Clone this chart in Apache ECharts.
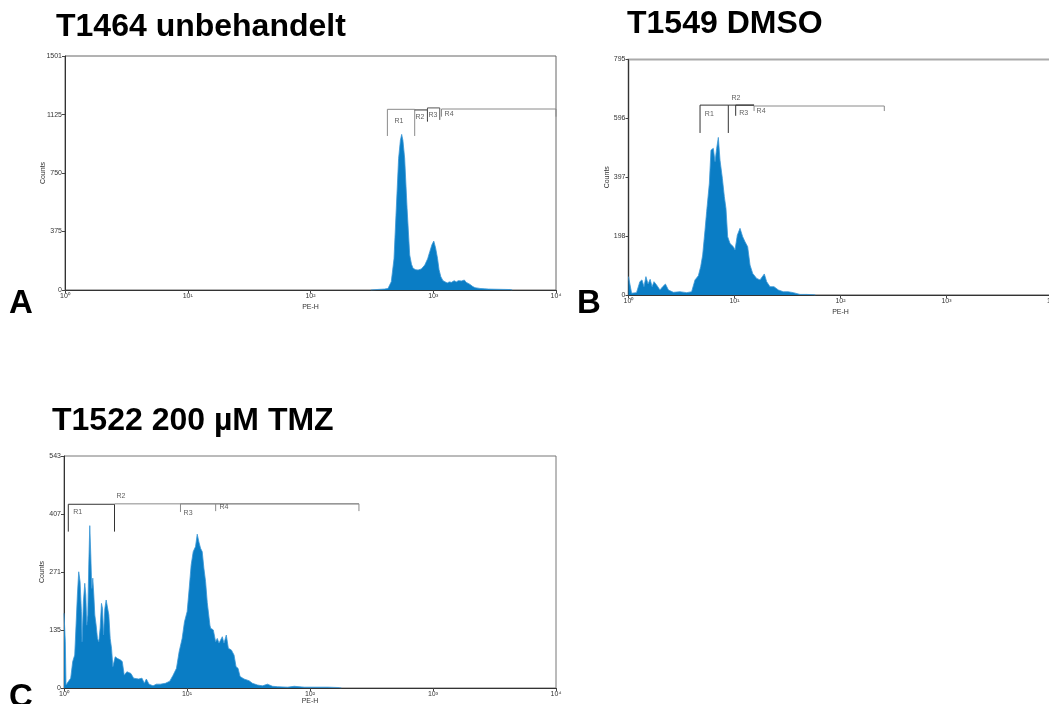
<!DOCTYPE html>
<html>
<head>
<meta charset="utf-8">
<script src="https://cdn.jsdelivr.net/npm/echarts@6/dist/echarts.min.js"></script>
<style>
html,body{margin:0;padding:0;background:#fff;}
#chart{width:1049px;height:704px;}
</style>
</head>
<body>
<div id="chart"></div>
<script>
// ---------- DATA ----------
const panelTitles = ['T1464 unbehandelt', 'T1549 DMSO', 'T1522 200 µM TMZ'];
const panelLetters = ['A', 'B', 'C'];
const xName = 'PE-H';
const yName = 'Counts';
const xTicks = [1, 10, 100, 1000, 10000];
const yTicksA = [0, 375, 750, 1125, 1501];
const yTicksB = [0, 198, 397, 596, 795];
const yTicksC = [0, 135, 271, 407, 543];

// histogram [PE-H, counts]
const histA = [[310,0],[312,3],[360,4],[400,6],[428,10],[455,53],[479,200],[500,524],[522,844],[540,960],[553,998],[566,960],[585,844],[612,524],[643,224],[665,165],[685,139],[720,130],[753,128],[800,135],[853,160],[900,200],[937,246],[975,290],[1010,314],[1045,270],[1083,203],[1115,130],[1153,85],[1200,60],[1243,53],[1300,45],[1350,52],[1410,49],[1480,60],[1540,52],[1600,60],[1700,58],[1792,64],[1850,50],[1992,36],[2100,22],[2188,15],[2400,10],[2600,8],[2813,6],[3200,5],[3700,4],[4204,3],[4400,0]];

const histB = [[1.0,62],[1.07,6],[1.19,8],[1.28,45],[1.34,51],[1.40,28],[1.46,62],[1.53,37],[1.60,53],[1.67,28],[1.74,45],[1.84,34],[1.98,17],[2.10,28],[2.23,37],[2.38,17],[2.65,9],[3.06,11],[3.54,8],[3.94,11],[4.24,51],[4.56,65],[4.80,96],[5.01,135],[5.27,219],[5.46,281],[5.79,377],[6.00,489],[6.31,495],[6.55,450],[6.79,495],[7.04,532],[7.30,455],[7.68,394],[8.02,332],[8.31,292],[8.62,197],[9.07,174],[9.75,163],[10.11,152],[10.63,202],[11.27,225],[11.94,197],[12.56,180],[13.31,163],[14.01,101],[14.84,73],[16.19,56],[17.40,51],[19.11,71],[20.11,45],[21.62,28],[23.59,28],[25.92,17],[28.88,11],[32.20,11],[35.89,8],[41.49,2],[47.96,2],[55.41,1],[58,0]];

const histC = [[1.0,175],[1.025,108],[1.038,7],[1.085,15],[1.134,23],[1.177,62],[1.222,77],[1.253,147],[1.285,218],[1.317,272],[1.351,249],[1.385,179],[1.403,108],[1.438,202],[1.475,245],[1.503,218],[1.531,147],[1.561,171],[1.590,288],[1.620,380],[1.651,311],[1.682,233],[1.714,257],[1.747,218],[1.780,171],[1.825,147],[1.871,116],[1.919,108],[1.967,140],[2.017,198],[2.056,186],[2.095,124],[2.148,186],[2.202,206],[2.258,206],[2.315,171],[2.374,116],[2.434,93],[2.496,50],[2.608,73],[2.725,69],[2.865,66],[2.975,62],[3.089,30],[3.247,38],[3.350,42],[3.501,34],[3.681,23],[4.045,21],[4.306,23],[4.499,11],[4.671,21],[4.911,9],[5.294,5],[5.636,9],[6.076,9],[6.676,11],[7.244,16],[7.712,30],[8.209,46],[8.631,85],[9.131,116],[9.541,155],[10.03,179],[10.42,233],[10.81,288],[11.23,319],[11.73,331],[12.11,360],[12.49,342],[12.89,327],[13.30,319],[13.72,280],[14.16,249],[14.61,200],[15.36,147],[15.56,140],[16.36,136],[17.09,108],[17.63,116],[18.20,105],[18.77,108],[19.37,120],[19.98,105],[20.87,124],[21.68,93],[22.94,89],[24.12,77],[25.04,50],[26.00,46],[27.00,27],[29.11,21],[31.97,17],[34.04,11],[37.40,7],[41.08,5],[45.12,9],[49.57,4],[54.47,3],[65.73,2],[74.5,4],[89.9,2],[108.5,2],[139.4,2],[173.6,1],[180,0]];

// region markers: [label, xStart, xEnd, level, leftTickEnd, rightTickEnd, labelX, labelY]
const gatesA = [
  ['R1', 423, 706, 1159, 988, 988, 526, 1084],
  ['R2', 706, 897, 1155, 1155, 1080, 780, 1112],
  ['R3', 897, 1130, 1168, 1091, 1091, 996, 1123],
  ['R4', 1167, 10000, 1161, 1112, 1112, 1346, 1129]
];
const gatesB = [
  ['R1', 4.73, 8.74, 641, 547, 547, 5.79, 610],
  ['R2', 8.74, 15.3, 641, 641, 641, 10.3, 665],
  ['R3', 10.26, 15.3, 641, 605, 641, 12.2, 615],
  ['R4', 15.3, 259, 638, 621, 621, 17.8, 620]
];
const gatesC = [
  ['R1', 1.084, 2.574, 430, 366, 366, 1.29, 411],
  ['R2', 2.574, 250, 431, 431, 431, 2.90, 449],
  ['R3', 8.85, 17.1, 431, 412, 431, 10.2, 410],
  ['R4', 17.1, 250, 431, 414, 414, 20.0, 424]
];

// ---------- STYLE / LAYOUT ----------
const FONT = 'Liberation Sans';
const FILL = '#0a7dc5';
const grids = [
  {left: 65, top: 56, width: 491, height: 234},
  {left: 628.5, top: 59.5, width: 424, height: 235.5},
  {left: 64, top: 456, width: 492, height: 232}
];
const xNameGaps = [14, 14, 10];
const yMax = [1501, 795, 543];
const yTicks = [yTicksA, yTicksB, yTicksC];
const hists = [histA, histB, histC];
const gates = [gatesA, gatesB, gatesC];
const gateColors = [
  ['#8a8a8a', '#333', '#555', '#8a8a8a'],
  ['#333', '#333', '#333', '#8a8a8a'],
  ['#333', '#8a8a8a', '#8a8a8a', '#8a8a8a']
];
const borderColors = ['#666', '#aaa', '#777'];

const sup = {0:'⁰',1:'¹',2:'²',3:'³',4:'⁴'};
const titleStyle = {fontFamily: FONT, fontSize: 32, fontWeight: 'bold', color: '#000'};
const letterStyle = {fontFamily: FONT, fontSize: 33, fontWeight: 'bold', color: '#000'};

const option = {
  animation: false,
  backgroundColor: '#fff',
  title: [
    {text: panelTitles[0], left: 56, top: 11, padding: 0, textStyle: titleStyle},
    {text: panelTitles[1], left: 627, top: 8, padding: 0, textStyle: titleStyle},
    {text: panelTitles[2], left: 52, top: 405, padding: 0, textStyle: titleStyle},
    {text: panelLetters[0], left: 9, top: 287, padding: 0, textStyle: letterStyle},
    {text: panelLetters[1], left: 577, top: 287, padding: 0, textStyle: letterStyle},
    {text: panelLetters[2], left: 9, top: 681, padding: 0, textStyle: letterStyle}
  ],
  grid: grids.map((g, i) => Object.assign({show: true, outerBoundsMode: 'none', containLabel: false, borderColor: borderColors[i], borderWidth: i === 1 ? 2 : 1, backgroundColor: 'transparent'}, g)),
  xAxis: grids.map((g, i) => ({
    type: 'log', logBase: 10, min: 1, max: 10000, gridIndex: i,
    name: xName, nameLocation: 'middle', nameGap: xNameGaps[i], nameMoveOverlap: false,
    nameTextStyle: {fontFamily: FONT, fontSize: 7, color: '#333'},
    axisLine: {show: true, lineStyle: {color: '#333', width: 1}},
    axisTick: {show: true, length: 3, lineStyle: {color: '#444'}},
    minorTick: {show: false},
    splitLine: {show: false},
    axisLabel: {
      margin: 3, fontFamily: FONT, fontSize: 7, color: '#333', hideOverlap: false,
      formatter: v => '10' + sup[Math.round(Math.log10(v))]
    }
  })),
  yAxis: grids.map((g, i) => ({
    type: 'value', min: 0, max: yMax[i], gridIndex: i,
    name: yName, nameLocation: 'middle', nameRotate: 90, nameGap: 18, nameMoveOverlap: false,
    nameTextStyle: {fontFamily: FONT, fontSize: 7, color: '#333'},
    axisLine: {show: true, lineStyle: {color: '#333', width: 1}},
    axisTick: {show: true, length: 3, customValues: yTicks[i], lineStyle: {color: '#444'}},
    axisLabel: {margin: 3, fontFamily: FONT, fontSize: 7, color: '#333', customValues: yTicks[i], formatter: v => String(v)},
    splitLine: {show: false}
  })),
  series: []
};

hists.forEach((h, i) => {
  option.series.push({
    type: 'line', xAxisIndex: i, yAxisIndex: i, data: h,
    symbol: 'none', smooth: false, z: 2,
    lineStyle: {color: '#3b97d6', width: 0.8},
    areaStyle: {color: FILL, opacity: 1}
  });
});

gates.forEach((gs, i) => {
  gs.forEach((g, k) => {
    const [lab, x1, x2, lev, lt, rt] = g;
    option.series.push({
      type: 'line', xAxisIndex: i, yAxisIndex: i, symbol: 'none', z: 3,
      data: [[x1, lt], [x1, lev], [x2, lev], [x2, rt]],
      lineStyle: {color: gateColors[i][k], width: 1}
    });
  });
  option.series.push({
    type: 'scatter', xAxisIndex: i, yAxisIndex: i, symbolSize: 1, z: 4,
    itemStyle: {color: 'rgba(0,0,0,0)'},
    data: gs.map(g => ({name: g[0], value: [g[6], g[7]]})),
    label: {show: true, position: 'inside', formatter: p => p.name, fontFamily: FONT, fontSize: 7, color: '#333'}
  });
});

const chart = echarts.init(document.getElementById('chart'), null, {renderer: 'canvas'});
chart.setOption(option);
</script>
</body>
</html>
